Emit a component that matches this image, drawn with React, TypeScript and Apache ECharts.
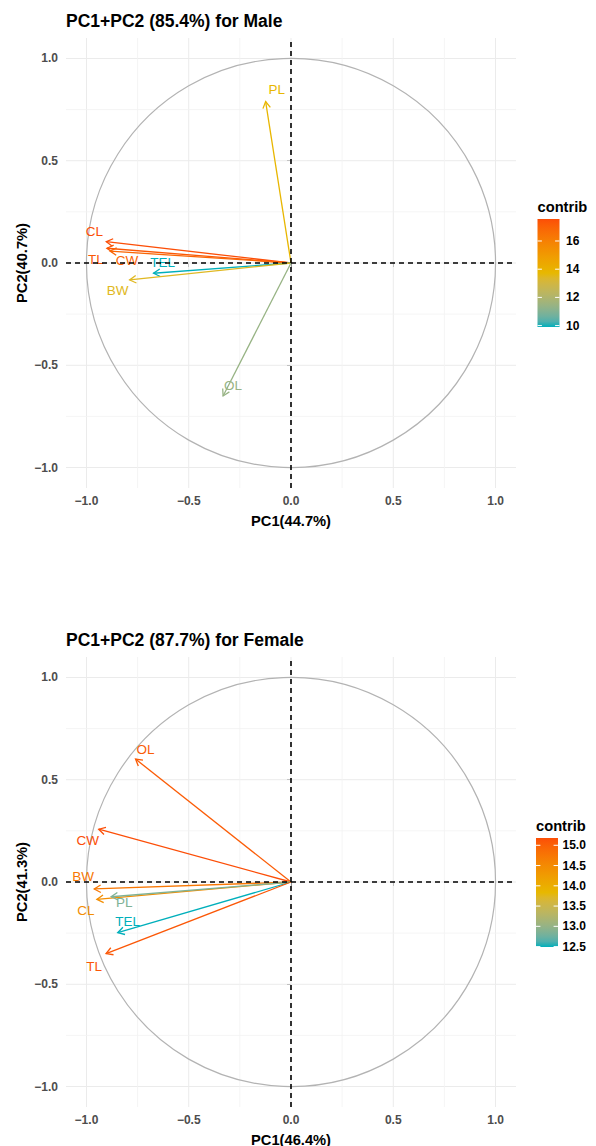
import React, { useEffect, useRef } from 'react';
import * as echarts from 'echarts';

// ---------- data ----------
const axisTicks = [-1, -0.5, 0, 0.5, 1];
const minorGrid = [-0.75, -0.25, 0.25, 0.75];
const axisMin = -1.1;
const axisMax = 1.1;
const circleRadius = 1;
const gradientCols = ['#00AFBB', '#E7B800', '#FC4E07'];

const maleTitle = 'PC1+PC2 (85.4%) for Male';
const maleXName = 'PC1(44.7%)';
const maleYName = 'PC2(40.7%)';
const maleVars = ['CL', 'TL', 'CW', 'TEL', 'BW', 'PL', 'OL'];
const malePC1 = [-0.903, -0.9, -0.885, -0.672, -0.789, -0.124, -0.332];
const malePC2 = [0.104, 0.072, 0.058, -0.05, -0.083, 0.789, -0.65];
const maleContrib = [17.56, 17.3, 16.9, 9.9, 13.5, 13.8, 11.4];
const maleLegendTicks = [10, 12, 14, 16];

const femaleTitle = 'PC1+PC2 (87.7%) for Female';
const femaleXName = 'PC1(46.4%)';
const femaleYName = 'PC2(41.3%)';
const femaleVars = ['OL', 'CW', 'BW', 'CL', 'PL', 'TEL', 'TL'];
const femalePC1 = [-0.76, -0.94, -0.962, -0.949, -0.879, -0.847, -0.904];
const femalePC2 = [0.601, 0.258, -0.034, -0.085, -0.072, -0.248, -0.35];
const femaleContrib = [15.05, 15.18, 14.75, 14.45, 12.85, 12.49, 15.1];
const femaleLegendTicks = [12.5, 13.0, 13.5, 14.0, 14.5, 15.0];

// ---------- layout (pixels, styling only) ----------
const maleLabelOffsets = [[-12, -10], [-11, 11], [17, 9], [9, -11], [-12, 11], [11, -12], [10, -10]];
const femaleLabelOffsets = [[10, -10], [-11, 11], [-11, -12], [-11, 11], [13, 6], [10, -11], [-12, 13]];

const FONT = '"Liberation Sans", Arial, Helvetica, sans-serif';

// ---------- colour helpers (CIELAB interpolation like ggplot) ----------
function hexToRgb(h: string) {
  return [parseInt(h.slice(1, 3), 16), parseInt(h.slice(3, 5), 16), parseInt(h.slice(5, 7), 16)];
}
function toLin(c: number) {
  c /= 255;
  return c <= 0.04045 ? c / 12.92 : Math.pow((c + 0.055) / 1.055, 2.4);
}
function fromLin(c: number) {
  const v = c <= 0.0031308 ? 12.92 * c : 1.055 * Math.pow(c, 1 / 2.4) - 0.055;
  return Math.round(Math.max(0, Math.min(1, v)) * 255);
}
function rgbToLab(rgb: number[]) {
  const [r, g, b] = rgb.map(toLin);
  const X = (r * 0.4124 + g * 0.3576 + b * 0.1805) / 0.95047;
  const Y = r * 0.2126 + g * 0.7152 + b * 0.0722;
  const Z = (r * 0.0193 + g * 0.1192 + b * 0.9505) / 1.08883;
  const f = (t: number) => (t > 0.008856 ? Math.cbrt(t) : 7.787 * t + 16 / 116);
  const fx = f(X), fy = f(Y), fz = f(Z);
  return [116 * fy - 16, 500 * (fx - fy), 200 * (fy - fz)];
}
function labToHex(lab: number[]) {
  const [L, a, b] = lab;
  const fy = (L + 16) / 116, fx = fy + a / 500, fz = fy - b / 200;
  const finv = (t: number) => (t * t * t > 0.008856 ? t * t * t : (t - 16 / 116) / 7.787);
  const X = finv(fx) * 0.95047, Y = finv(fy), Z = finv(fz) * 1.08883;
  const r = X * 3.2406 + Y * -1.5372 + Z * -0.4986;
  const g = X * -0.9689 + Y * 1.8758 + Z * 0.0415;
  const bb = X * 0.0557 + Y * -0.204 + Z * 1.057;
  return '#' + [r, g, bb].map(fromLin).map((v) => v.toString(16).padStart(2, '0')).join('');
}
const labCols = gradientCols.map((c) => rgbToLab(hexToRgb(c)));
function rampColor(t: number) {
  t = Math.max(0, Math.min(1, t));
  const n = labCols.length - 1;
  const seg = Math.min(n - 1, Math.floor(t * n));
  const lt = t * n - seg;
  const a = labCols[seg], b = labCols[seg + 1];
  return labToHex([0, 1, 2].map((i) => a[i] + (b[i] - a[i]) * lt));
}

const fmtAxis = (v: number) => (v < 0 ? '\u2212' + Math.abs(v).toFixed(1) : v.toFixed(1));

type Panel = {
  title: string; xName: string; yName: string;
  vars: string[]; pc1: number[]; pc2: number[]; contrib: number[];
  legendTicks: number[]; offsets: number[][]; decimals: number;
  top: number; titleY: number; legTitleY: number; barX: number; barTop: number; barH: number; labelX: number;
};

const panels: Panel[] = [
  {
    title: maleTitle, xName: maleXName, yName: maleYName, vars: maleVars, pc1: malePC1, pc2: malePC2,
    contrib: maleContrib, legendTicks: maleLegendTicks, offsets: maleLabelOffsets, decimals: 0,
    top: 38, titleY: 21, legTitleY: 207, barX: 537.5, barTop: 219, barH: 108, labelX: 566,
  },
  {
    title: femaleTitle, xName: femaleXName, yName: femaleYName, vars: femaleVars, pc1: femalePC1, pc2: femalePC2,
    contrib: femaleContrib, legendTicks: femaleLegendTicks, offsets: femaleLabelOffsets, decimals: 1,
    top: 657, titleY: 640, legTitleY: 826, barX: 536, barTop: 838, barH: 109, labelX: 562.5,
  },
];

const GRID_LEFT = 66;
const GRID_SIZE = 450;
const BAR_W = 22;

function buildOption() {
  const grids: any[] = [];
  const xAxes: any[] = [];
  const yAxes: any[] = [];
  const series: any[] = [];
  const graphics: any[] = [];

  const gridValues = [...axisTicks, ...minorGrid].map((v) => [v, axisTicks.includes(v) ? 1 : 0]);

  panels.forEach((p, pi) => {
    grids.push({ left: GRID_LEFT, top: p.top, width: GRID_SIZE, height: GRID_SIZE, outerBoundsMode: 'none', containLabel: false });
    const common = {
      type: 'value', gridIndex: pi, min: axisMin, max: axisMax,
      axisLine: { show: false },
      splitLine: { show: false },
      axisTick: { show: true, length: 4, lineStyle: { color: '#333333', width: 1 }, customValues: axisTicks },
      axisLabel: {
        customValues: axisTicks, formatter: fmtAxis, color: '#4D4D4D', fontWeight: 'bold',
        fontSize: 12, fontFamily: FONT,
      },
      nameLocation: 'middle',
      nameMoveOverlap: false,
      nameTextStyle: { color: '#000', fontWeight: 'bold', fontSize: 14.7, fontFamily: FONT },
    };
    xAxes.push({ ...common, name: p.xName, nameGap: 25, axisLabel: { ...common.axisLabel, margin: 7 } });
    yAxes.push({ ...common, name: p.yName, nameGap: 37, axisLabel: { ...common.axisLabel, margin: 8 } });

    const cMin = Math.min(...p.contrib);
    const cMax = Math.max(...p.contrib);

    // grid lines
    series.push({
      type: 'custom', xAxisIndex: pi, yAxisIndex: pi, silent: true, z: 1, clip: false,
      data: gridValues,
      renderItem: (params: any, api: any) => {
        const v = api.value(0);
        const major = api.value(1) === 1;
        const a = api.coord([v, axisMin]), b = api.coord([v, axisMax]);
        const c = api.coord([axisMin, v]), d = api.coord([axisMax, v]);
        const st = { stroke: major ? '#EBEBEB' : '#F3F3F3', lineWidth: major ? 1 : 0.8 };
        return {
          type: 'group', children: [
            { type: 'line', shape: { x1: a[0], y1: a[1], x2: b[0], y2: b[1] }, style: st },
            { type: 'line', shape: { x1: c[0], y1: c[1], x2: d[0], y2: d[1] }, style: st },
          ],
        };
      },
    });

    // correlation circle
    series.push({
      type: 'custom', xAxisIndex: pi, yAxisIndex: pi, silent: true, z: 2, clip: false,
      data: [[0, 0, circleRadius]],
      renderItem: (params: any, api: any) => {
        const c = api.coord([api.value(0), api.value(1)]);
        const r = api.size([api.value(2), api.value(2)])[0];
        return { type: 'circle', shape: { cx: c[0], cy: c[1], r }, style: { stroke: '#B3B3B3', fill: 'none', lineWidth: 1.2 } };
      },
    });

    // arrows + labels
    series.push({
      type: 'custom', xAxisIndex: pi, yAxisIndex: pi, silent: true, z: 3, clip: false,
      data: p.vars.map((_, i) => [p.pc1[i], p.pc2[i], p.contrib[i]]),
      renderItem: (params: any, api: any) => {
        const i = params.dataIndex;
        const p0 = api.coord([0, 0]);
        const p1 = api.coord([api.value(0), api.value(1)]);
        const col = rampColor((api.value(2) - cMin) / (cMax - cMin));
        const ang = Math.atan2(p1[1] - p0[1], p1[0] - p0[0]);
        const L = 7.5, A = Math.PI / 6;
        const h1 = [p1[0] - L * Math.cos(ang - A), p1[1] - L * Math.sin(ang - A)];
        const h2 = [p1[0] - L * Math.cos(ang + A), p1[1] - L * Math.sin(ang + A)];
        const off = p.offsets[i];
        return {
          type: 'group', children: [
            { type: 'line', shape: { x1: p0[0], y1: p0[1], x2: p1[0], y2: p1[1] }, style: { stroke: col, lineWidth: 1.3 } },
            { type: 'polyline', shape: { points: [h1, p1, h2] }, style: { stroke: col, lineWidth: 1.3, fill: 'none' } },
            {
              type: 'text',
              style: {
                text: p.vars[i], x: p1[0] + off[0], y: p1[1] + off[1], fill: col,
                font: `13.5px ${FONT}`, align: 'center', verticalAlign: 'middle',
                textAlign: 'center', textVerticalAlign: 'middle',
              },
            },
          ],
        };
      },
    });

    // dashed zero lines (on top)
    series.push({
      type: 'custom', xAxisIndex: pi, yAxisIndex: pi, silent: true, z: 4, clip: false,
      data: [[0, 0]],
      renderItem: (params: any, api: any) => {
        const x0 = api.value(0), y0 = api.value(1);
        const a = api.coord([x0, axisMin]), b = api.coord([x0, axisMax]);
        const c = api.coord([axisMin, y0]), d = api.coord([axisMax, y0]);
        const st = { stroke: '#000000', lineWidth: 1.6, lineDash: [5, 4] };
        return {
          type: 'group', children: [
            { type: 'line', shape: { x1: a[0], y1: a[1], x2: b[0], y2: b[1] }, style: st },
            { type: 'line', shape: { x1: c[0], y1: c[1], x2: d[0], y2: d[1] }, style: st },
          ],
        };
      },
    });

    // title
    graphics.push({
      type: 'text', x: GRID_LEFT, y: p.titleY,
      style: {
        text: p.title, fill: '#000', font: `bold 17.5px ${FONT}`,
        align: 'left', verticalAlign: 'middle', textAlign: 'left', textVerticalAlign: 'middle',
      },
    });

    // legend
    graphics.push({
      type: 'text', x: p.barX, y: p.legTitleY,
      style: {
        text: 'contrib', fill: '#000', font: `bold 14.7px ${FONT}`,
        align: 'left', verticalAlign: 'middle', textAlign: 'left', textVerticalAlign: 'middle',
      },
    });
    const stops = [];
    for (let k = 0; k <= 20; k++) stops.push({ offset: k / 20, color: rampColor(k / 20) });
    graphics.push({
      type: 'rect', shape: { x: p.barX, y: p.barTop, width: BAR_W, height: p.barH },
      style: { fill: new echarts.graphic.LinearGradient(0, 1, 0, 0, stops) },
    });
    p.legendTicks.forEach((t) => {
      const y = p.barTop + p.barH - ((t - cMin) / (cMax - cMin)) * p.barH;
      const tl = BAR_W / 5;
      graphics.push({ type: 'line', shape: { x1: p.barX, y1: y, x2: p.barX + tl, y2: y }, style: { stroke: '#fff', lineWidth: 1 } });
      graphics.push({ type: 'line', shape: { x1: p.barX + BAR_W - tl, y1: y, x2: p.barX + BAR_W, y2: y }, style: { stroke: '#fff', lineWidth: 1 } });
      graphics.push({
        type: 'text', x: p.labelX, y,
        style: {
          text: t.toFixed(p.decimals), fill: '#000', font: `bold 12px ${FONT}`,
          align: 'left', verticalAlign: 'middle', textAlign: 'left', textVerticalAlign: 'middle',
        },
      });
    });
  });

  return {
    animation: false,
    backgroundColor: '#ffffff',
    textStyle: { fontFamily: FONT },
    grid: grids,
    xAxis: xAxes,
    yAxis: yAxes,
    series,
    graphic: { elements: graphics },
  };
}

export default function App() {
  const ref = useRef<HTMLDivElement>(null);
  useEffect(() => {
    if (!ref.current) return;
    const chart = echarts.init(ref.current, undefined, { renderer: 'svg' });
    chart.setOption(buildOption() as any);
    return () => chart.dispose();
  }, []);
  return <div ref={ref} style={{ position: 'absolute', left: 0, top: 0, width: 596, height: 1146 }} />;
}
